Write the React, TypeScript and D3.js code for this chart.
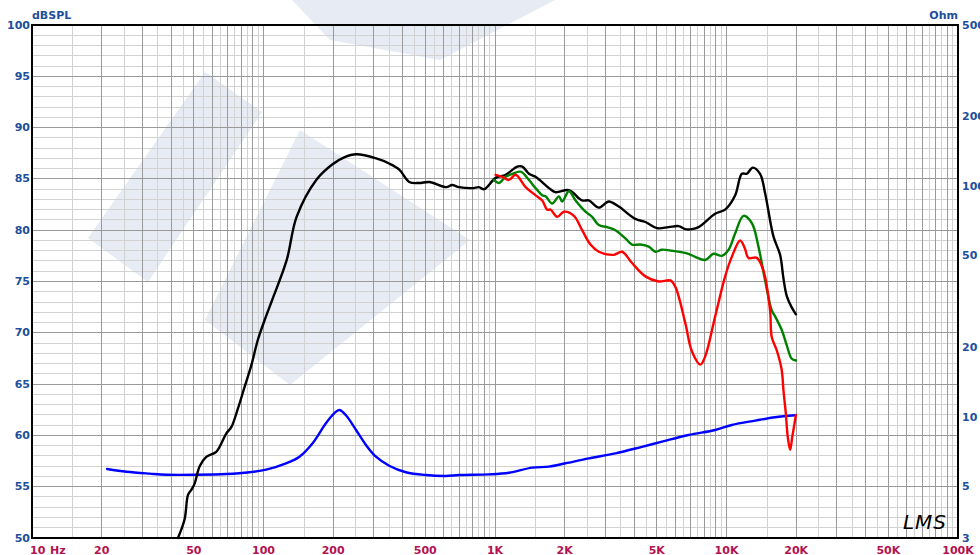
import React from "react";
import * as d3 from "d3";

// ---------- data ----------
const splOnAxis: [number, number][] = [
  [42.7, 50.0], [45.6, 51.8], [47.2, 54.2], [48.8, 54.7], [50.4, 55.3], [53.0, 57.0], [56.6, 57.9],
  [62.5, 58.4], [65.7, 59.2], [69.1, 60.2], [72.6, 60.8], [77.5, 62.6], [82.8, 64.7], [88.5, 66.8],
  [94.5, 69.3], [101, 71.2], [109, 73.2], [126, 77.1], [139, 81.3], [169, 84.9], [198, 86.4],
  [223, 87.1], [252, 87.4], [307, 87.0], [349, 86.5], [386, 85.9], [426, 84.7], [470, 84.6],
  [520, 84.7], [615, 84.2], [653, 84.4], [699, 84.2], [798, 84.1], [853, 84.2], [897, 84.0],
  [1007, 85.1], [1112, 85.4], [1248, 86.2], [1312, 86.2], [1402, 85.5], [1497, 85.2], [1710, 84.1],
  [1828, 83.7], [2086, 83.9], [2379, 82.9], [2543, 82.9], [2808, 82.2], [3100, 82.8], [3423, 82.3],
  [4039, 81.1], [4463, 80.8], [5010, 80.2], [5626, 80.3], [6215, 80.4], [6645, 80.1], [7086, 80.1],
  [7574, 80.3], [8935, 81.6], [9866, 82.0], [10904, 83.4], [11650, 85.5], [12236, 85.5],
  [12983, 86.1], [13963, 85.5], [14681, 83.6], [15950, 79.4], [17040, 77.6], [17620, 75.3],
  [18200, 73.6], [19100, 72.5], [19950, 71.8],
];

const spl30deg: [number, number][] = [
  [990, 84.9], [1040, 84.6], [1112, 85.2], [1188, 85.5], [1291, 85.7], [1402, 84.9], [1497, 84.1],
  [1600, 83.4], [1655, 83.3], [1766, 82.6], [1888, 83.3], [1951, 82.8], [2086, 83.8], [2229, 82.9],
  [2461, 81.8], [2627, 81.3], [2808, 80.5], [3049, 80.3], [3313, 80.0], [3658, 79.2], [3908, 78.6],
  [4246, 78.6], [4613, 78.4], [4930, 77.9], [5263, 78.1], [5808, 78.0], [6852, 77.7], [7324, 77.4],
  [8091, 77.1], [8790, 77.7], [9550, 77.5], [10210, 78.1], [10904, 79.7], [11840, 81.4],
  [12860, 80.7], [13740, 78.4], [14681, 75.1], [15680, 72.2], [16220, 71.6], [17310, 70.3],
  [18200, 68.8], [19100, 67.5], [19950, 67.3],
];

const spl60deg: [number, number][] = [
  [1007, 85.4], [1076, 85.2], [1149, 84.9], [1228, 85.4], [1356, 84.2], [1497, 83.4], [1600, 82.9],
  [1680, 82.0], [1738, 82.0], [1857, 81.3], [1983, 81.8], [2192, 81.4], [2379, 80.0], [2585, 78.6],
  [2808, 77.9], [3258, 77.6], [3540, 77.9], [3908, 76.8], [4463, 75.5], [5093, 75.0], [5718, 75.1],
  [6007, 74.5], [6645, 70.9], [7086, 68.2], [7709, 66.9], [8091, 67.7], [8935, 71.6], [9866, 75.5],
  [10540, 77.4], [11460, 79.0], [12020, 78.2], [12440, 77.3], [13520, 77.3], [14420, 76.1],
  [15420, 72.2], [15680, 69.6], [16480, 68.3], [17310, 66.4], [17620, 64.4], [18030, 62.2],
  [18380, 59.9], [18830, 58.6], [19250, 59.9], [19950, 62.0],
];

const impedance: [number, number][] = [
  [21.1, 5.97], [25.6, 5.81], [32.3, 5.70], [38.1, 5.64], [51.3, 5.64], [69.1, 5.68], [87.0, 5.78],
  [102.7, 5.93], [125, 6.32], [143, 6.75], [163, 7.72], [186, 9.42], [202, 10.4], [212.6, 10.75],
  [227, 10.2], [251, 8.81], [277, 7.59], [306, 6.75], [349, 6.17], [412, 5.78], [503, 5.62],
  [613, 5.57], [700, 5.62], [942, 5.66], [1149, 5.75], [1448, 6.05], [1709, 6.11], [2017, 6.32],
  [2543, 6.64], [3313, 6.98], [4314, 7.45], [5263, 7.84], [6860, 8.38], [8940, 8.81],
  [10540, 9.26], [13300, 9.67], [16220, 10.0], [19780, 10.2],
];

const freqTicks = [10, 20, 50, 100, 200, 500, 1000, 2000, 5000, 10000, 20000, 50000, 100000];
const freqLabels = ["10", "20", "50", "100", "200", "500", "1K", "2K", "5K", "10K", "20K", "50K", "100K"];
const splTicks = [50, 55, 60, 65, 70, 75, 80, 85, 90, 95, 100];
const ohmTicks = [3, 5, 10, 20, 50, 100, 200, 500];

// ---------- layout ----------
const W = 980;
const H = 555;
const L = 32, R = 958, T = 25, B = 538;

const x = d3.scaleLog().domain([10, 100000]).range([L, R]);
const ySpl = d3.scaleLinear().domain([50, 100]).range([B, T]);
const yOhm = d3.scaleLog().domain([3, 500]).range([B, T]);

const BLUE_TXT = "#1d4f9b";
const RED_TXT = "#b3124f";
const FONT = "'DejaVu Sans', Verdana, sans-serif";

export default function App() {
  // grid lines
  const vLines: { f: number; major: boolean }[] = [];
  for (const dec of [10, 100, 1000, 10000]) {
    for (let m = 1; m < 10; m += 0.5) {
      const f = dec * m;
      if (f === 10) continue;
      vLines.push({ f, major: Number.isInteger(m) });
    }
  }
  const hLines: { v: number; major: boolean }[] = [];
  for (let v = 51; v < 100; v++) hLines.push({ v, major: v % 5 === 0 });

  const splLine = d3
    .line<[number, number]>()
    .x((d) => x(d[0]))
    .y((d) => ySpl(d[1]))
    .curve(d3.curveCatmullRom.alpha(0.5));
  const ohmLine = d3
    .line<[number, number]>()
    .x((d) => x(d[0]))
    .y((d) => yOhm(d[1]))
    .curve(d3.curveCatmullRom.alpha(0.5));

  const wm = "#e6ebf4";

  return (
    <svg
      width={W}
      height={H}
      viewBox={`0 0 ${W} ${H}`}
      style={{ position: "absolute", left: 0, top: 0, background: "#fff" }}
    >
      <rect x={0} y={0} width={W} height={H} fill="#fff" />
      {/* watermark */}
      <g fill={wm}>
        <polygon points="88,238 205,72 262,112 148,282" />
        <polygon points="205,320 300,130 470,240 290,385" />
        <polygon points="292,0 555,0 440,60 330,40" />
      </g>
      {/* grid */}
      <g shapeRendering="crispEdges">
        {hLines.filter((h) => !h.major).map((h) => (
          <line key={"h" + h.v} x1={L} x2={R} y1={ySpl(h.v)} y2={ySpl(h.v)} stroke="#d2d2d2" strokeWidth={1} />
        ))}
        {vLines.filter((v) => !v.major).map((v) => (
          <line key={"v" + v.f} x1={x(v.f)} x2={x(v.f)} y1={T} y2={B} stroke="#d2d2d2" strokeWidth={1} />
        ))}
        {hLines.filter((h) => h.major).map((h) => (
          <line key={"H" + h.v} x1={L} x2={R} y1={ySpl(h.v)} y2={ySpl(h.v)} stroke="#9a9a9a" strokeWidth={1} />
        ))}
        {vLines.filter((v) => v.major).map((v) => (
          <line key={"V" + v.f} x1={x(v.f)} x2={x(v.f)} y1={T} y2={B} stroke="#9a9a9a" strokeWidth={1} />
        ))}
      </g>
      {/* frame */}
      <rect x={L} y={T} width={R - L} height={B - T} fill="none" stroke="#000" strokeWidth={2} />

      {/* curves */}
      <g fill="none" strokeWidth={2.4} strokeLinejoin="round" strokeLinecap="round">
        <path d={ohmLine(impedance) ?? ""} stroke="#0000ff" />
        <path d={splLine(splOnAxis) ?? ""} stroke="#000000" />
        <path d={splLine(spl30deg) ?? ""} stroke="#008000" />
        <path d={splLine(spl60deg) ?? ""} stroke="#ff0000" />
      </g>

      {/* left axis */}
      <g fontFamily={FONT} fontWeight="bold" fontSize={11} fill={BLUE_TXT}>
        <text x={32} y={19}>dBSPL</text>
        {splTicks.map((v) => (
          <text key={"l" + v} x={30} y={ySpl(v)} textAnchor="end" dominantBaseline="central">
            {v}
          </text>
        ))}
        <text x={958} y={19} textAnchor="end">Ohm</text>
        {ohmTicks.map((v) => (
          <text key={"r" + v} x={962} y={yOhm(v)} dominantBaseline="central">
            {v}
          </text>
        ))}
      </g>

      {/* bottom axis */}
      <g fontFamily={FONT} fontWeight="bold" fontSize={11} fill={RED_TXT}>
        {freqTicks.map((f, i) =>
          i === 0 ? (
            <g key="f0">
              <text x={30} y={554}>{freqLabels[0]}</text>
              <text x={50} y={554}>Hz</text>
            </g>
          ) : (
            <text key={"f" + f} x={x(f)} y={554} textAnchor="middle">
              {freqLabels[i]}
            </text>
          )
        )}
      </g>

      {/* logo */}
      <text
        x={903}
        y={529}
        fontFamily="'DejaVu Sans', sans-serif"
        fontStyle="italic"
        fontWeight={200}
        fontSize={20}
        textLength={43}
        fill="#000"
      >
        LMS
      </text>
    </svg>
  );
}
